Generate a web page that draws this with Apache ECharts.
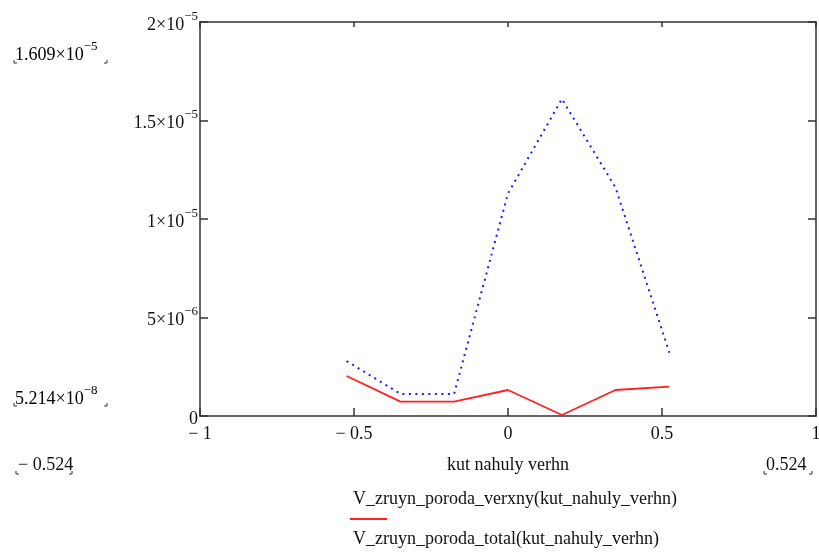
<!DOCTYPE html>
<html>
<head>
<meta charset="utf-8">
<script src="https://cdn.jsdelivr.net/npm/echarts@6/dist/echarts.min.js"></script>
<style>html,body{margin:0;padding:0;background:#fff;overflow:hidden;}#c{width:819px;height:553px;}</style>
</head>
<body>
<div id="c"></div>
<script>
// x values: kut_nahuly_verhn (radians)
const kutNahulyVerhn = [-0.524, -0.349, -0.175, 0, 0.175, 0.349, 0.524];
// V_zruyn_poroda_verxny (red solid)
const vVerxny = [2.03e-6, 7.3e-7, 7.3e-7, 1.32e-6, 5.214e-8, 1.32e-6, 1.49e-6];
// V_zruyn_poroda_total (blue dotted)
const vTotal = [2.79e-6, 1.12e-6, 1.12e-6, 1.13e-5, 1.609e-5, 1.16e-5, 3.21e-6];
// axis settings
const xMin = -1, xMax = 1, xStep = 0.5;
const yMin = 0, yMax = 2e-5, yStep = 5e-6;
const seriesNames = ['V_zruyn_poroda_verxny(kut_nahuly_verhn)', 'V_zruyn_poroda_total(kut_nahuly_verhn)'];
const xTitle = 'kut nahuly verhn';
const yMaxMark = '{b|1.609×10}{s|−5}';
const yMinMark = '{b|5.214×10}{s|−8}';
const xMinMark = '− 0.524';
const xMaxMark = '0.524';

const FONT = '"Liberation Serif", "Times New Roman", serif';
const FS = 18;
const richSci = {
  b: {fontFamily: FONT, fontSize: FS, lineHeight: 24, verticalAlign: 'bottom', color: '#111'},
  s: {fontFamily: FONT, fontSize: 13, lineHeight: 13, verticalAlign: 'top', color: '#111'}
};
function sci(v) {
  if (Math.abs(v) < 1e-15) return '{b|0}';
  const e = Math.floor(Math.log10(v) + 1e-9);
  const m = Math.round(v / Math.pow(10, e) * 1000) / 1000;
  return '{b|' + m + '×10}{s|−' + (-e) + '}';
}
function xfmt(v) {
  if (v < 0) return '− ' + (-v);
  return '' + v;
}
const axisColor = '#333';
const chart = echarts.init(document.getElementById('c'), null, {renderer: 'canvas', width: 819, height: 553});

function corner(x, y, right) {
  return {
    type: 'polyline', silent: true,
    shape: {points: right ? [[x, y - 3], [x, y], [x - 3, y]] : [[x, y - 3], [x, y], [x + 3, y]]},
    style: {stroke: '#333', lineWidth: 1, fill: null}
  };
}
function txt(left, top, text) {
  return {type: 'text', left: left, top: top, silent: true, style: {text: text, fontFamily: FONT, fontSize: FS, fill: '#111'}};
}

chart.setOption({
  animation: false,
  backgroundColor: '#fff',
  grid: {left: 200, top: 22, right: 3, bottom: 137, containLabel: false, outerBoundsMode: 'none'},
  xAxis: [{
    type: 'value', min: xMin, max: xMax, interval: xStep, position: 'bottom',
    axisLine: {show: true, onZero: false, lineStyle: {color: axisColor, width: 1.5}},
    axisTick: {show: true, inside: true, length: 8, lineStyle: {color: axisColor, width: 1.5}},
    axisLabel: {show: true, margin: 9, formatter: xfmt, fontFamily: FONT, fontSize: FS, color: '#111', showMaxLabel: true, showMinLabel: true},
    splitLine: {show: false}
  }, {
    type: 'value', min: xMin, max: xMax, interval: xStep, position: 'top',
    axisLine: {show: true, onZero: false, lineStyle: {color: axisColor, width: 1.5}},
    axisTick: {show: true, inside: true, length: 5, lineStyle: {color: axisColor, width: 1.5}},
    axisLabel: {show: false}, splitLine: {show: false}
  }],
  yAxis: [{
    type: 'value', min: yMin, max: yMax, interval: yStep, position: 'left',
    axisLine: {show: true, onZero: false, lineStyle: {color: axisColor, width: 1.5}},
    axisTick: {show: true, inside: true, length: 8, lineStyle: {color: axisColor, width: 1.5}},
    axisLabel: {show: true, margin: 2, formatter: sci, rich: richSci, align: 'right'},
    splitLine: {show: false}
  }, {
    type: 'value', min: yMin, max: yMax, interval: yStep, position: 'right',
    axisLine: {show: true, onZero: false, lineStyle: {color: axisColor, width: 1.5}},
    axisTick: {show: true, inside: true, length: 8, lineStyle: {color: axisColor, width: 1.5}},
    axisLabel: {show: false}, splitLine: {show: false}
  }],
  series: [{
    name: seriesNames[1], type: 'line', xAxisIndex: 0, yAxisIndex: 0,
    data: kutNahulyVerhn.map((x, i) => [x, vTotal[i]]),
    showSymbol: false, symbol: 'none',
    lineStyle: {color: '#1a1aff', width: 2, type: [2, 4.5]}
  }, {
    name: seriesNames[0], type: 'line', xAxisIndex: 0, yAxisIndex: 0,
    data: kutNahulyVerhn.map((x, i) => [x, vVerxny[i]]),
    showSymbol: false, symbol: 'none',
    lineStyle: {color: '#ff2020', width: 1.8, type: 'solid'}
  }],
  graphic: [
    {type: 'text', left: 15, top: 40, silent: true, style: {text: yMaxMark, rich: richSci}},
    corner(14, 63, false), corner(107, 63, true),
    {type: 'text', left: 15, top: 384, silent: true, style: {text: yMinMark, rich: richSci}},
    corner(14, 406, false), corner(107, 406, true),
    txt(18, 456, xMinMark),
    corner(16, 474, false), corner(72, 474, true),
    txt(766, 456, xMaxMark),
    corner(764, 474, false), corner(812, 474, true),
    txt(447, 456, xTitle),
    txt(353, 490, seriesNames[0]),
    {type: 'line', silent: true, shape: {x1: 350, y1: 519, x2: 387, y2: 519}, style: {stroke: '#ff2020', lineWidth: 1.8}},
    txt(353, 530, seriesNames[1])
  ]
});
</script>
</body>
</html>
